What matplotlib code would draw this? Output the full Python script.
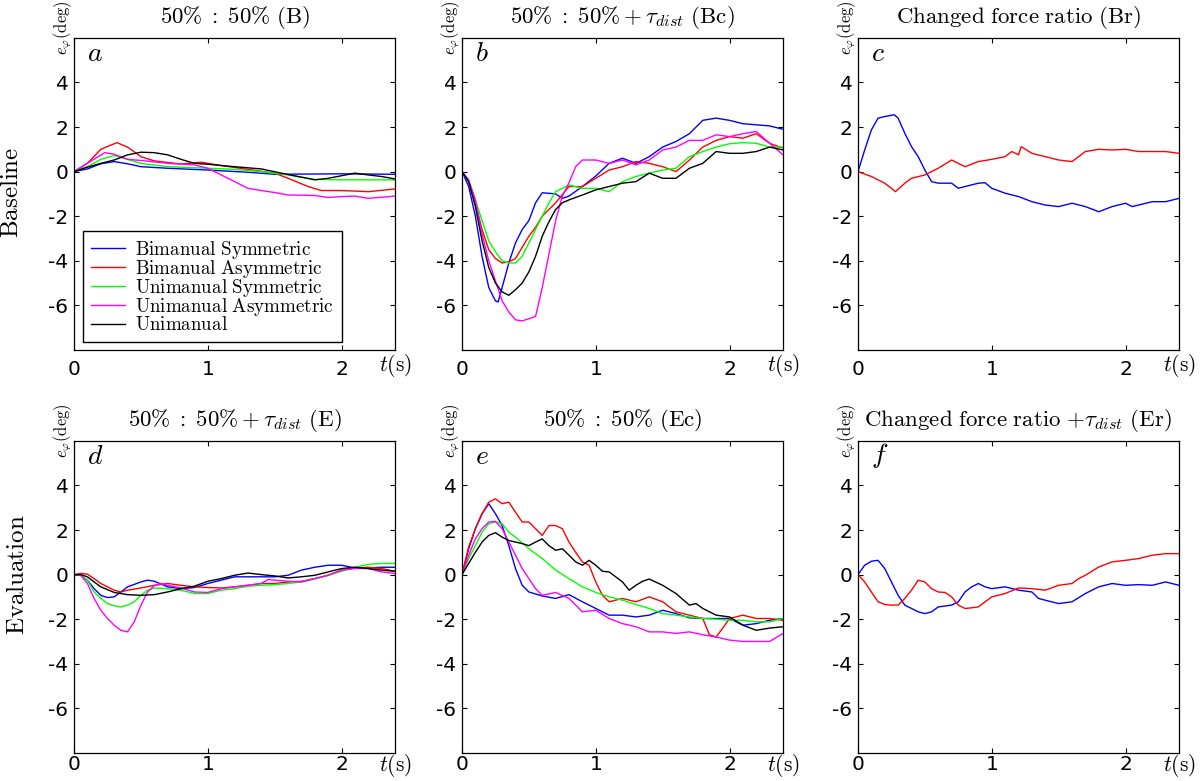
import matplotlib
matplotlib.use('Agg')
import matplotlib.pyplot as plt

plt.rcParams['mathtext.fontset'] = 'cm'
plt.rcParams['font.family'] = ['DejaVu Sans']

# series names and colours
labels = ["Bimanual Symmetric", "Bimanual Asymmetric", "Unimanual Symmetric",
          "Unimanual Asymmetric", "Unimanual"]
colors = ['#0000ff', '#ff0000', '#00ff00', '#ff00ff', '#000000']

# ---- panel a: 50% : 50% (B)  (t, e_phi)
a_bs = [(0, 0), (0.1, 0.12), (0.2, 0.35), (0.3, 0.45), (0.4, 0.35), (0.5, 0.22), (0.7, 0.15),
        (1.0, 0.07), (1.3, -0.03), (1.5, -0.12), (2.0, -0.1), (2.4, -0.12)]
a_ba = [(0, 0), (0.1, 0.37), (0.2, 1.0), (0.32, 1.3), (0.4, 1.1), (0.5, 0.67), (0.6, 0.48),
        (0.8, 0.34), (0.95, 0.42), (1.1, 0.27), (1.3, 0.1), (1.5, -0.07), (1.6, -0.3),
        (1.75, -0.67), (1.85, -0.85), (2.0, -0.85), (2.2, -0.9), (2.4, -0.78)]
a_us = [(0, 0), (0.1, 0.22), (0.2, 0.55), (0.3, 0.72), (0.4, 0.55), (0.5, 0.37), (0.7, 0.22),
        (1.0, 0.15), (1.2, 0.1), (1.4, 0.0), (1.6, -0.15), (1.8, -0.35), (2.0, -0.37),
        (2.2, -0.37), (2.4, -0.37)]
a_ua = [(0, 0), (0.1, 0.37), (0.23, 0.85), (0.3, 0.78), (0.4, 0.55), (0.5, 0.5), (0.7, 0.37),
        (0.9, 0.3), (1.0, 0.15), (1.1, -0.15), (1.2, -0.45), (1.3, -0.75), (1.4, -0.85),
        (1.5, -0.94), (1.6, -1.05), (1.8, -1.07), (1.9, -1.16), (2.0, -1.12), (2.1, -1.1),
        (2.2, -1.2), (2.4, -1.1)]
a_u = [(0, 0), (0.1, 0.2), (0.2, 0.37), (0.3, 0.52), (0.4, 0.75), (0.5, 0.87), (0.6, 0.85),
       (0.7, 0.75), (0.8, 0.55), (0.9, 0.37), (1.0, 0.33), (1.2, 0.22), (1.4, 0.12),
       (1.55, -0.07), (1.7, -0.25), (1.8, -0.37), (1.9, -0.3), (2.1, -0.07), (2.2, -0.15),
       (2.3, -0.22), (2.4, -0.33)]

# ---- panel b: 50% : 50% + tau_dist (Bc)
b_bs = [(0, 0), (0.05, -0.67), (0.1, -2.0), (0.15, -3.8), (0.2, -5.2), (0.25, -5.8), (0.27, -5.85),
        (0.3, -5.2), (0.35, -4.1), (0.4, -3.2), (0.45, -2.6), (0.5, -2.2), (0.55, -1.4),
        (0.6, -0.95), (0.7, -1.0), (0.75, -1.2), (0.8, -1.1), (0.9, -0.67), (1.0, -0.2),
        (1.1, 0.37), (1.2, 0.6), (1.3, 0.37), (1.4, 0.67), (1.5, 1.1), (1.6, 1.35), (1.7, 1.7),
        (1.8, 2.3), (1.9, 2.4), (2.0, 2.3), (2.1, 2.15), (2.2, 2.1), (2.3, 2.05), (2.4, 1.9)]
b_ba = [(0, 0), (0.05, -0.45), (0.1, -1.4), (0.15, -2.6), (0.2, -3.5), (0.25, -3.9), (0.3, -4.1),
        (0.35, -4.05), (0.4, -3.9), (0.45, -3.4), (0.5, -2.9), (0.55, -2.5), (0.6, -2.0),
        (0.7, -1.4), (0.8, -0.67), (0.9, -0.67), (1.0, -0.3), (1.1, 0.07), (1.2, 0.22),
        (1.3, 0.45), (1.4, 0.37), (1.5, 0.22), (1.6, 0.0), (1.7, 0.52), (1.8, 1.1), (1.9, 1.4),
        (2.0, 1.57), (2.1, 1.5), (2.2, 1.7), (2.3, 1.27), (2.4, 1.05)]
b_us = [(0, 0), (0.05, -0.45), (0.1, -1.27), (0.15, -2.2), (0.2, -3.1), (0.25, -3.6), (0.3, -4.0),
        (0.35, -4.1), (0.4, -4.1), (0.45, -3.8), (0.5, -3.2), (0.55, -2.6), (0.6, -2.0),
        (0.65, -1.4), (0.7, -0.9), (0.8, -0.6), (0.9, -0.75), (1.0, -0.75), (1.1, -0.9),
        (1.2, -0.45), (1.3, -0.22), (1.4, -0.07), (1.5, 0.07), (1.6, 0.15), (1.7, 0.67),
        (1.8, 0.9), (1.9, 1.1), (2.0, 1.25), (2.1, 1.3), (2.2, 1.27), (2.3, 1.1), (2.4, 1.1)]
b_ua = [(0, 0), (0.05, -0.37), (0.1, -1.27), (0.15, -2.8), (0.2, -4.0), (0.25, -4.9), (0.3, -5.8),
        (0.35, -6.3), (0.4, -6.65), (0.45, -6.7), (0.5, -6.6), (0.55, -6.5), (0.6, -5.2),
        (0.65, -3.7), (0.7, -2.2), (0.75, -1.1), (0.8, -0.5), (0.85, 0.22), (0.9, 0.52),
        (1.0, 0.52), (1.1, 0.37), (1.2, 0.52), (1.3, 0.3), (1.4, 0.52), (1.5, 0.97), (1.6, 1.1),
        (1.7, 1.4), (1.8, 1.4), (1.9, 1.65), (2.0, 1.57), (2.1, 1.7), (2.2, 1.8), (2.3, 1.27),
        (2.4, 0.75)]
b_u = [(0, 0), (0.05, -0.45), (0.1, -1.57), (0.15, -3.1), (0.2, -4.3), (0.25, -5.0), (0.3, -5.4),
       (0.35, -5.55), (0.4, -5.3), (0.45, -5.0), (0.5, -4.5), (0.55, -3.8), (0.6, -2.9),
       (0.65, -2.25), (0.7, -1.7), (0.75, -1.4), (0.8, -1.27), (0.9, -1.05), (1.0, -0.82),
       (1.1, -0.67), (1.2, -0.52), (1.3, -0.45), (1.4, -0.07), (1.5, -0.3), (1.6, -0.3),
       (1.7, 0.15), (1.8, 0.37), (1.9, 0.9), (2.0, 0.82), (2.1, 0.82), (2.2, 0.9), (2.3, 1.1),
       (2.4, 0.97)]

# ---- panel c: changed force ratio (Br)
c_bs = [(0, 0), (0.05, 0.97), (0.1, 1.87), (0.15, 2.4), (0.2, 2.47), (0.27, 2.55), (0.3, 2.4),
        (0.35, 1.72), (0.4, 1.12), (0.45, 0.67), (0.5, 0.07), (0.55, -0.45), (0.6, -0.52),
        (0.7, -0.52), (0.75, -0.75), (0.8, -0.67), (0.9, -0.52), (0.95, -0.5), (1.0, -0.75),
        (1.1, -0.97), (1.2, -1.12), (1.3, -1.35), (1.4, -1.5), (1.5, -1.57), (1.6, -1.42),
        (1.7, -1.57), (1.8, -1.8), (1.9, -1.57), (2.0, -1.42), (2.05, -1.57), (2.2, -1.35),
        (2.3, -1.35), (2.4, -1.2)]
c_ba = [(0, 0), (0.1, -0.22), (0.2, -0.52), (0.25, -0.75), (0.28, -0.9), (0.35, -0.52),
        (0.4, -0.3), (0.5, -0.15), (0.6, 0.15), (0.7, 0.52), (0.8, 0.22), (0.9, 0.45),
        (1.0, 0.55), (1.1, 0.67), (1.15, 0.9), (1.2, 0.75), (1.22, 1.12), (1.3, 0.82),
        (1.4, 0.67), (1.5, 0.52), (1.6, 0.45), (1.7, 0.9), (1.8, 1.0), (1.9, 0.97), (2.0, 1.0),
        (2.1, 0.9), (2.2, 0.9), (2.3, 0.9), (2.4, 0.82)]

# ---- panel d: 50% : 50% + tau_dist (E)
d_bs = [(0, 0), (0.05, -0.03), (0.1, -0.25), (0.15, -0.63), (0.2, -0.93), (0.25, -1.03),
        (0.3, -1.0), (0.35, -0.78), (0.4, -0.55), (0.5, -0.33), (0.55, -0.25), (0.6, -0.3),
        (0.7, -0.55), (0.8, -0.63), (0.9, -0.58), (1.0, -0.4), (1.1, -0.25), (1.2, -0.1),
        (1.3, -0.1), (1.4, -0.1), (1.5, -0.1), (1.6, -0.03), (1.7, 0.2), (1.8, 0.33), (1.9, 0.42),
        (2.0, 0.42), (2.1, 0.3), (2.2, 0.3), (2.3, 0.33), (2.4, 0.33)]
d_ba = [(0, 0), (0.05, 0.05), (0.1, 0.02), (0.15, -0.18), (0.2, -0.4), (0.3, -0.7), (0.35, -0.78),
        (0.4, -0.7), (0.5, -0.6), (0.6, -0.48), (0.7, -0.4), (0.8, -0.48), (0.9, -0.55),
        (1.0, -0.58), (1.1, -0.6), (1.2, -0.55), (1.3, -0.48), (1.4, -0.4), (1.5, -0.4),
        (1.6, -0.33), (1.7, -0.3), (1.8, -0.18), (1.9, -0.03), (2.0, 0.2), (2.1, 0.3),
        (2.2, 0.33), (2.3, 0.27), (2.4, 0.15)]
d_us = [(0, 0), (0.05, -0.03), (0.1, -0.25), (0.15, -0.78), (0.2, -1.07), (0.25, -1.3),
        (0.3, -1.4), (0.35, -1.45), (0.4, -1.37), (0.45, -1.22), (0.5, -0.93), (0.55, -0.7),
        (0.6, -0.6), (0.7, -0.63), (0.8, -0.7), (0.9, -0.85), (1.0, -0.85), (1.1, -0.7),
        (1.2, -0.63), (1.3, -0.52), (1.4, -0.48), (1.5, -0.45), (1.6, -0.4), (1.7, -0.33),
        (1.8, -0.2), (1.9, -0.03), (2.0, 0.15), (2.1, 0.33), (2.2, 0.46), (2.3, 0.5), (2.4, 0.5)]
d_ua = [(0, 0), (0.05, -0.03), (0.1, -0.4), (0.15, -1.07), (0.2, -1.6), (0.25, -1.97),
        (0.3, -2.27), (0.35, -2.5), (0.4, -2.57), (0.45, -2.12), (0.5, -1.37), (0.55, -0.78),
        (0.6, -0.5), (0.65, -0.4), (0.7, -0.48), (0.8, -0.6), (0.9, -0.78), (1.0, -0.8),
        (1.1, -0.63), (1.2, -0.55), (1.3, -0.48), (1.4, -0.4), (1.45, -0.22), (1.5, -0.25),
        (1.6, -0.3), (1.7, -0.33), (1.8, -0.18), (1.9, -0.03), (2.0, 0.2), (2.1, 0.27),
        (2.2, 0.27), (2.3, 0.12), (2.4, 0.05)]
d_u = [(0, 0), (0.05, 0.0), (0.1, -0.1), (0.15, -0.33), (0.2, -0.55), (0.3, -0.8), (0.4, -0.9),
       (0.5, -0.93), (0.6, -0.9), (0.7, -0.78), (0.8, -0.63), (0.9, -0.52), (1.0, -0.3),
       (1.1, -0.18), (1.2, -0.03), (1.3, 0.07), (1.4, 0.0), (1.5, -0.06), (1.6, -0.15),
       (1.7, -0.1), (1.8, -0.03), (1.9, 0.12), (2.0, 0.27), (2.1, 0.33), (2.2, 0.27),
       (2.3, 0.2), (2.4, 0.15)]

# ---- panel e: 50% : 50% (Ec)
e_bs = [(0, 0), (0.05, 1.16), (0.1, 2.06), (0.15, 2.73), (0.2, 3.18), (0.25, 2.73), (0.3, 2.2),
        (0.35, 1.3), (0.4, 0.27), (0.45, -0.48), (0.5, -0.78), (0.6, -0.96), (0.7, -1.07),
        (0.8, -0.9), (0.9, -1.22), (1.0, -1.52), (1.1, -1.82), (1.2, -1.82), (1.3, -1.9),
        (1.4, -1.82), (1.5, -1.6), (1.6, -1.75), (1.7, -1.94), (1.8, -1.97), (1.9, -1.97),
        (2.0, -1.97), (2.1, -2.27), (2.2, -2.2), (2.3, -2.05), (2.4, -1.97)]
e_ba = [(0, 0), (0.05, 1.24), (0.1, 2.06), (0.15, 2.73), (0.2, 3.25), (0.25, 3.4), (0.3, 3.18),
        (0.35, 3.25), (0.4, 2.8), (0.45, 2.36), (0.5, 2.36), (0.55, 2.06), (0.6, 1.76),
        (0.65, 2.2), (0.7, 2.2), (0.75, 2.06), (0.8, 1.46), (0.85, 1.0), (0.9, 0.57),
        (0.95, 0.42), (1.0, -0.33), (1.05, -0.93), (1.1, -1.22), (1.2, -1.07), (1.3, -1.22),
        (1.4, -1.0), (1.5, -1.22), (1.6, -1.67), (1.7, -1.82), (1.8, -1.97), (1.85, -2.7),
        (1.9, -2.8), (1.95, -2.4), (2.0, -1.97), (2.1, -1.82), (2.2, -1.97), (2.3, -1.97),
        (2.4, -2.05)]
e_us = [(0, 0), (0.05, 0.72), (0.1, 1.3), (0.15, 1.9), (0.2, 2.28), (0.25, 2.36), (0.3, 2.28),
        (0.35, 1.9), (0.4, 1.68), (0.5, 1.16), (0.6, 0.72), (0.7, 0.2), (0.8, -0.18),
        (0.9, -0.55), (1.0, -0.8), (1.1, -1.0), (1.2, -1.15), (1.3, -1.34), (1.4, -1.52),
        (1.5, -1.75), (1.6, -1.82), (1.7, -1.9), (1.8, -1.97), (1.9, -2.0), (2.0, -2.05),
        (2.1, -2.05), (2.2, -2.12), (2.3, -2.12), (2.4, -1.97)]
e_ua = [(0, 0), (0.05, 0.87), (0.1, 1.6), (0.15, 2.06), (0.2, 2.36), (0.25, 2.39), (0.3, 2.06),
        (0.35, 1.46), (0.4, 0.87), (0.45, 0.27), (0.5, -0.18), (0.55, -0.63), (0.6, -0.93),
        (0.7, -0.8), (0.8, -1.07), (0.85, -1.37), (0.9, -1.67), (1.0, -1.6), (1.1, -1.97),
        (1.2, -2.2), (1.3, -2.34), (1.4, -2.57), (1.5, -2.57), (1.6, -2.64), (1.7, -2.57),
        (1.8, -2.7), (1.9, -2.8), (2.0, -2.94), (2.1, -3.0), (2.2, -3.0), (2.3, -3.0),
        (2.4, -2.64)]
e_u = [(0, 0), (0.05, 0.5), (0.1, 1.0), (0.15, 1.46), (0.2, 1.76), (0.25, 1.88), (0.3, 1.68),
       (0.35, 1.53), (0.4, 1.46), (0.45, 1.39), (0.5, 1.3), (0.55, 1.46), (0.6, 1.6),
       (0.65, 1.3), (0.7, 1.09), (0.75, 1.16), (0.8, 0.87), (0.85, 0.57), (0.9, 0.42),
       (0.95, 0.64), (1.0, 0.42), (1.05, 0.15), (1.1, 0.12), (1.2, -0.33), (1.25, -0.7),
       (1.3, -0.48), (1.35, -0.3), (1.4, -0.2), (1.5, -0.48), (1.6, -0.85), (1.7, -1.37),
       (1.75, -1.3), (1.8, -1.52), (1.9, -1.82), (2.0, -1.9), (2.1, -2.27), (2.2, -2.5),
       (2.3, -2.4), (2.4, -2.34)]

# ---- panel f: changed force ratio + tau_dist (Er)
f_bs = [(0, 0), (0.05, 0.42), (0.1, 0.6), (0.15, 0.64), (0.2, 0.27), (0.25, -0.33), (0.3, -0.93),
        (0.35, -1.37), (0.4, -1.52), (0.45, -1.67), (0.5, -1.75), (0.55, -1.67), (0.6, -1.45),
        (0.7, -1.37), (0.75, -1.22), (0.8, -0.78), (0.85, -0.55), (0.9, -0.4), (0.95, -0.55),
        (1.0, -0.63), (1.1, -0.55), (1.2, -0.7), (1.3, -0.78), (1.35, -1.07), (1.4, -1.15),
        (1.5, -1.3), (1.6, -1.22), (1.7, -0.85), (1.8, -0.55), (1.9, -0.4), (2.0, -0.48),
        (2.1, -0.45), (2.2, -0.48), (2.3, -0.33), (2.4, -0.48)]
f_ba = [(0, 0), (0.05, -0.33), (0.1, -0.78), (0.15, -1.22), (0.2, -1.34), (0.25, -1.37),
        (0.3, -1.37), (0.35, -1.07), (0.4, -0.7), (0.45, -0.25), (0.5, -0.33), (0.55, -0.63),
        (0.6, -0.78), (0.65, -0.8), (0.7, -1.0), (0.75, -1.37), (0.8, -1.52), (0.85, -1.49),
        (0.9, -1.45), (0.95, -1.22), (1.0, -1.0), (1.1, -0.85), (1.2, -0.6), (1.3, -0.63),
        (1.4, -0.7), (1.5, -0.48), (1.6, -0.4), (1.65, -0.18), (1.7, -0.03), (1.8, 0.34),
        (1.9, 0.57), (2.0, 0.64), (2.1, 0.72), (2.2, 0.87), (2.3, 0.94), (2.4, 0.94)]

titles = [r'$50\%\;:\;50\%\ (\mathrm{B})$',
          r'$50\%\;:\;50\% + \tau_{dist}\ (\mathrm{Bc})$',
          r'$\mathrm{Changed\ force\ ratio\ (Br)}$',
          r'$50\%\;:\;50\% + \tau_{dist}\ (\mathrm{E})$',
          r'$50\%\;:\;50\%\ (\mathrm{Ec})$',
          r'$\mathrm{Changed\ force\ ratio}\ {+}\tau_{dist}\ (\mathrm{Er})$']
letters = ['a', 'b', 'c', 'd', 'e', 'f']
panels = [[a_bs, a_ba, a_us, a_ua, a_u],
          [b_bs, b_ba, b_us, b_ua, b_u],
          [c_bs, c_ba],
          [d_bs, d_ba, d_us, d_ua, d_u],
          [e_bs, e_ba, e_us, e_ua, e_u],
          [f_bs, f_ba]]

fig = plt.figure(figsize=(12, 7.81), dpi=100)

# axes positions (left, bottom, width, height) in figure fractions
lefts = [0.0617, 0.385, 0.715]
bottoms = [0.552, 0.036]
w, h = 0.2675, 0.3995

axes = []
for i in range(6):
    r, c = divmod(i, 3)
    ax = fig.add_axes([lefts[c], bottoms[r], w, h])
    axes.append(ax)
    for k, series in enumerate(panels[i]):
        t, y = zip(*series)
        ax.plot(t, y, color=colors[k], lw=1.0,
                label=r'$\mathrm{' + labels[k].replace(' ', r'\ ') + '}$')
    ax.set_xlim(0, 2.4)
    ax.set_ylim(-8, 6)
    ax.set_xticks([0, 1, 2])
    ax.set_yticks([-6, -4, -2, 0, 2, 4])
    ax.set_yticklabels(['-6', '-4', '-2', '0', '2', '4'])
    ax.tick_params(direction='in', top=True, right=True, length=3.5, width=0.8,
                   labelsize=14.5)
    ax.tick_params(axis='y', pad=4)
    # the lower row sits tight against the bottom edge
    ax.tick_params(axis='x', pad=7 if r == 0 else 1.5)
    for s in ax.spines.values():
        s.set_linewidth(0.9)
    ax.set_title(titles[i], fontsize=16.5, pad=11)
    ax.text(0.04, 0.952, '$' + letters[i] + '$', transform=ax.transAxes,
            fontsize=20, ha='left', va='center')
    ax.text(-0.034, 0.946, r'$e_{\varphi}(\mathrm{deg})$', transform=ax.transAxes,
            rotation=90, fontsize=12, ha='center', va='bottom')
    ax.text(1.0, -0.051 if r == 0 else -0.04, r'$t(\mathrm{s})$', transform=ax.transAxes,
            fontsize=15.5, ha='center', va='center')

axes[0].legend(loc='lower left', bbox_to_anchor=(0.028, 0.026), fontsize=13.7,
               frameon=True, fancybox=False, edgecolor='black', framealpha=1,
               handlelength=1.8, handletextpad=0.55, labelspacing=-0.15,
               borderpad=0.4, borderaxespad=0)
axes[0].get_legend().get_frame().set_linewidth(1.0)

fig.text(0.0095, 0.754, r'$\mathrm{Baseline}$', rotation=90, fontsize=18,
         ha='center', va='center')
fig.text(0.014, 0.264, r'$\mathrm{Evaluation}$', rotation=90, fontsize=18,
         ha='center', va='center')

fig.savefig('out.png', dpi=100)
